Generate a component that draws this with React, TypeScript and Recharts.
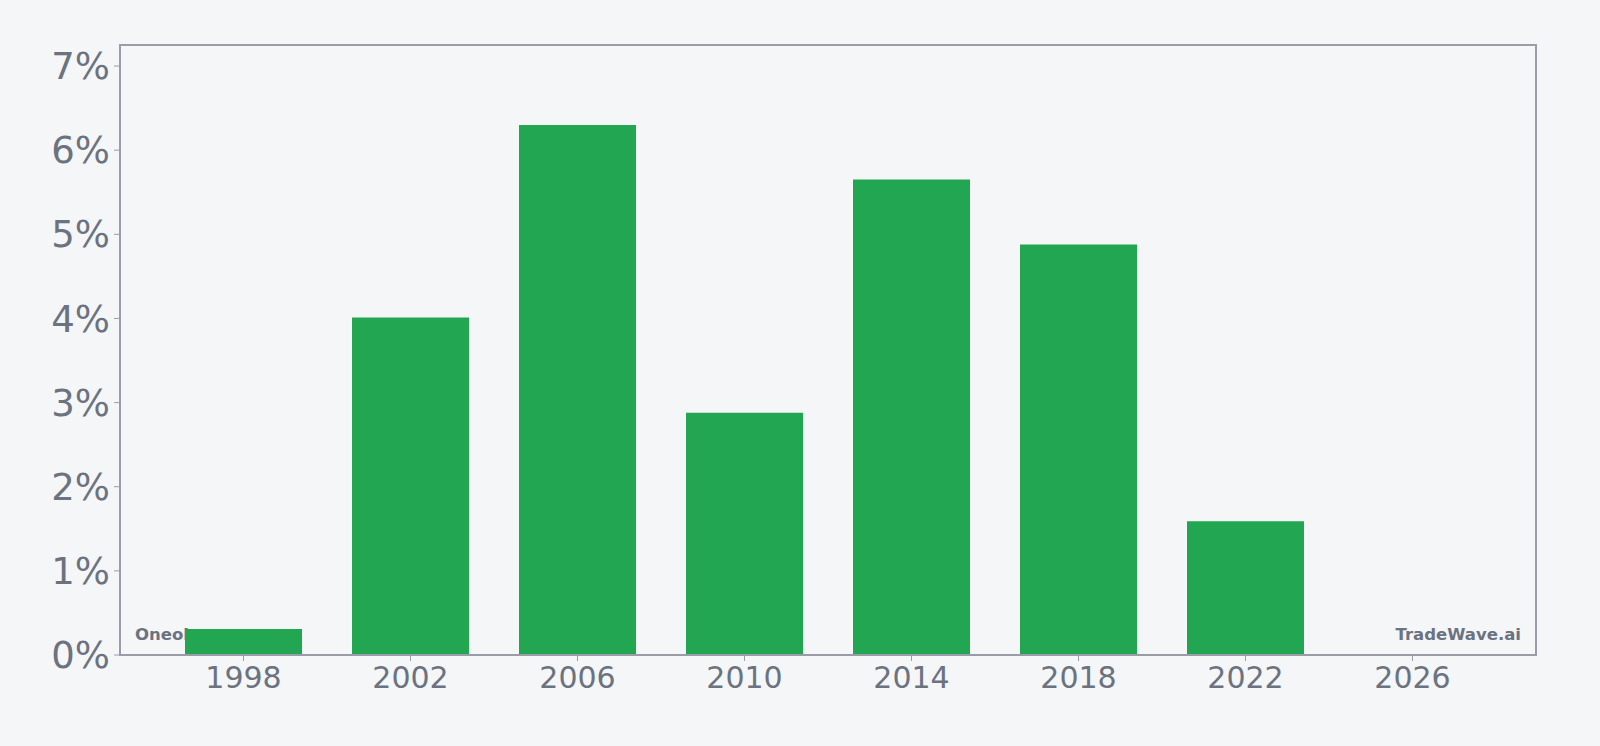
import { BarChart, Bar, XAxis, YAxis } from "recharts"

const years = ["1998", "2002", "2006", "2010", "2014", "2018", "2022", "2026"]
const growth: (number | null)[] = [0.31, 4.01, 6.3, 2.88, 5.65, 4.88, 1.59, null]
const yTicks = [0, 1, 2, 3, 4, 5, 6, 7]

const W = 1600
const H = 746
const BG = "#f5f6f8"
const TEXT = "#6b7280"
const FRAME = "#9a9ca8"
const FONT = "'DejaVu Sans', Verdana, sans-serif"

// plot box
const LEFT = 120
const TOP = 45
const RIGHT = 1536
const BOTTOM = 655

export default function App() {
  const data = years.map((year, i) => ({ year, value: growth[i] }))

  return (
    <div
      style={{
        position: "fixed",
        left: 0,
        top: 0,
        width: W,
        height: H,
        background: BG,
        fontFamily: FONT,
      }}
    >
      {/* watermark sits behind the bars */}
      <svg width={W} height={H} style={{ position: "absolute", left: 0, top: 0 }}>
        <text x={135} y={640} fill={TEXT} fontSize={16.5} fontWeight="bold" fontFamily={FONT}>
          Oneok
        </text>
        <text
          x={1521}
          y={640}
          fill={TEXT}
          fontSize={16.5}
          fontWeight="bold"
          fontFamily={FONT}
          textAnchor="end"
        >
          TradeWave.ai
        </text>
      </svg>

      <div style={{ position: "absolute", left: 0, top: 0 }}>
        <BarChart
          width={W}
          height={H}
          data={data}
          margin={{ top: TOP, right: W - RIGHT, bottom: H - BOTTOM - 40, left: 0 }}
        >
          <XAxis
            dataKey="year"
            height={40}
            padding={{ left: 40, right: 40 }}
            axisLine={false}
            tickLine={{ stroke: FRAME, strokeWidth: 1 }}
            tickSize={6}
            tickMargin={6}
            tick={{ fill: TEXT, fontSize: 30, fontFamily: FONT }}
            interval={0}
          />
          <YAxis
            width={LEFT}
            domain={[0, 7.25]}
            ticks={yTicks}
            tickFormatter={(v: number) => `${v}%`}
            axisLine={false}
            tickLine={{ stroke: FRAME, strokeWidth: 1 }}
            tickSize={6}
            tickMargin={4}
            tick={{ fill: TEXT, fontSize: 37, fontFamily: FONT }}
            allowDataOverflow
          />
          <Bar dataKey="value" fill="#22a652" barSize={117} isAnimationActive={false} />
        </BarChart>
      </div>

      {/* plot frame */}
      <div
        style={{
          position: "absolute",
          left: LEFT - 1,
          top: TOP - 1,
          width: RIGHT - LEFT - 2,
          height: BOTTOM - TOP - 2,
          border: `2px solid ${FRAME}`,
          pointerEvents: "none",
        }}
      />
    </div>
  )
}
